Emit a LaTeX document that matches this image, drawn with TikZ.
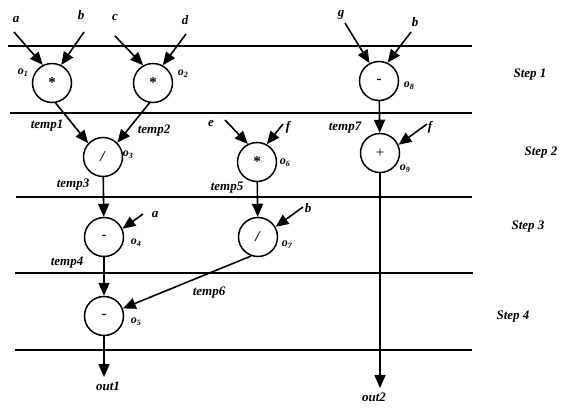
\documentclass[tikz,border=0pt]{standalone}
\usepackage{fontspec}
\setmainfont{Liberation Serif}
\usetikzlibrary{arrows.meta}

\begin{document}
\begin{tikzpicture}[
  x=1pt, y=-1pt,
  op/.style={circle, draw, line width=1.5pt, minimum size=39pt, inner sep=0pt, font=\bfseries\fontsize{15}{17}\selectfont},
  lbl/.style={inner sep=0pt, font=\bfseries\itshape\fontsize{13}{15}\selectfont},
  oname/.style={inner sep=0pt, font=\bfseries\itshape\fontsize{12}{14}\selectfont},
  arrow/.style={-{Triangle[length=13pt,width=11pt]}, line width=1.6pt},
  stepline/.style={line width=1.7pt}
]
\useasboundingbox (0,0) rectangle (567,409);
\draw[stepline] (8,46) -- (472,46);
\draw[stepline] (10,113) -- (472,113);
\draw[stepline] (16,197) -- (472,197);
\draw[stepline] (15,273) -- (473,273);
\draw[stepline] (15,350) -- (472,350);

\node[op] (o1) at (52,83) {*};
\node[op] (o2) at (153,83) {*};
\node[op] (o3) at (103,157) {\textit{/}};
\node[op] (o4) at (104,237) {-};
\node[op] (o5) at (104,316) {-};
\node[op] (o6) at (257,162) {*};
\node[op] (o7) at (258,237) {\textit{/}};
\node[op] (o8) at (379,81) {-};
\node[op] (o9) at (380,153) {\mdseries +};

\node[oname] (n1) at (23,73) {o\textsubscript{1}};
\node[oname] (n2) at (183,74) {o\textsubscript{2}};
\node[oname] (n3) at (128,155) {o\textsubscript{3}};
\node[oname] (n4) at (136,243) {o\textsubscript{4}};
\node[oname] (n5) at (136,322) {o\textsubscript{5}};
\node[oname] (n6) at (285,163) {o\textsubscript{6}};
\node[oname] (n7) at (287,245) {o\textsubscript{7}};
\node[oname] (n8) at (409,86) {o\textsubscript{8}};
\node[oname] (n9) at (405,169) {o\textsubscript{9}};

\node[lbl] (va) at (16,20) {a};
\node[lbl] (vb) at (81,15) {b};
\node[lbl] (vc) at (115,18) {c};
\node[lbl] (vd) at (185,20) {d};
\node[lbl] (ve) at (211,124) {e};
\node[lbl] (vf) at (288,127) {f};
\node[lbl] (vb2) at (308,208) {b};
\node[lbl] (va2) at (155,215) {a};
\node[lbl] (vg) at (341,15) {g};
\node[lbl] (vb3) at (415,22) {b};
\node[lbl] (vf2) at (430,127) {f};

\node[lbl] (t1) at (47,126) {temp1};
\node[lbl] (t2) at (154,131) {temp2};
\node[lbl] (t3) at (73,185) {temp3};
\node[lbl] (t4) at (67,263) {temp4};
\node[lbl] (t5) at (227,188) {temp5};
\node[lbl] (t6) at (209,293) {temp6};
\node[lbl] (t7) at (345,128) {temp7};
\node[lbl] (out1) at (108,386) {out1};
\node[lbl] (out2) at (374,397) {out2};

\node[lbl] (s1) at (530,75) {Step 1};
\node[lbl] (s2) at (541,153) {Step 2};
\node[lbl] (s3) at (528,227) {Step 3};
\node[lbl] (s4) at (513,317) {Step 4};

\coordinate (ia) at (14,32);
\coordinate (ib) at (84,32);
\coordinate (ic) at (115,36);
\coordinate (id) at (186,34);
\coordinate (ie) at (225,120);
\coordinate (if) at (283,124);
\coordinate (ib2) at (303,207);
\coordinate (ia2) at (143,214);
\coordinate (ig) at (345,23);
\coordinate (ib3) at (411,32);
\coordinate (if2) at (427,124);
\coordinate (e1) at (104,377);
\coordinate (e2) at (380,388);

\draw[arrow] (ia) -- (o1.117);
\draw[arrow] (ib) -- (o1.63);
\draw[arrow] (ic) -- (o2.119);
\draw[arrow] (id) -- (o2.61);
\draw[arrow] (o1.-80) -- (o3.137);
\draw[arrow] (o2.-100) -- (o3.45);
\draw[arrow] (o3) -- (o4);
\draw[arrow] (ia2) -- (o4.24);
\draw[arrow] (o4) -- (o5);
\draw[arrow] (o5) -- (e1);
\draw[arrow] (ie) -- (o6.117);
\draw[arrow] (if) -- (o6.61);
\draw[arrow] (o6) -- (o7);
\draw[arrow] (ib2) -- (o7.30);
\draw[arrow] (o7.-110) -- (o5.22);
\draw[arrow] (ig) -- (o8.118);
\draw[arrow] (ib3) -- (o8.65);
\draw[arrow] (o8) -- (o9);
\draw[arrow] (if2) -- (o9.24);
\draw[arrow] (o9) -- (e2);
\end{tikzpicture}
\end{document}
